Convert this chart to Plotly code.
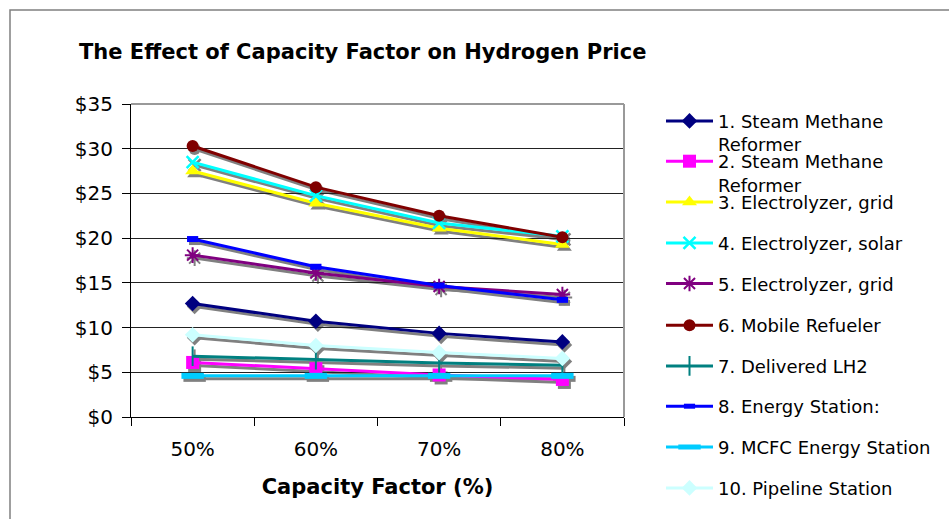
import plotly.graph_objects as go

# Capacity factor categories
capacity = ["50%", "60%", "70%", "80%"]

# Hydrogen price ($/kg) per station type
smr_1 = [12.7, 10.7, 9.35, 8.4]
smr_2 = [6.1, 5.4, 4.7, 4.2]
electrolyzer_grid_3 = [27.5, 23.9, 21.1, 19.3]
electrolyzer_solar_4 = [28.5, 24.75, 21.7, 20.2]
electrolyzer_grid_5 = [18.1, 16.1, 14.6, 13.7]
mobile_refueler_6 = [30.3, 25.7, 22.5, 20.1]
delivered_lh2_7 = [6.8, 6.4, 6.05, 5.8]
energy_station_8 = [19.9, 16.8, 14.7, 13.1]
mcfc_station_9 = [4.6, 4.6, 4.6, 4.6]
pipeline_station_10 = [9.2, 8.0, 7.2, 6.55]

names = [
    "1. Steam Methane<br>Reformer",
    "2. Steam Methane<br>Reformer",
    "3. Electrolyzer, grid",
    "4. Electrolyzer, solar",
    "5. Electrolyzer, grid",
    "6. Mobile Refueler",
    "7. Delivered LH2",
    "8. Energy Station:",
    "9. MCFC Energy Station",
    "10. Pipeline Station",
]
values = [smr_1, smr_2, electrolyzer_grid_3, electrolyzer_solar_4,
          electrolyzer_grid_5, mobile_refueler_6, delivered_lh2_7,
          energy_station_8, mcfc_station_9, pipeline_station_10]

styles = [
    dict(color="#000080", symbol="diamond", size=12, lw=0),
    dict(color="#FF00FF", symbol="square", size=13, lw=0),
    dict(color="#FFFF00", symbol="triangle-up", size=13, lw=0),
    dict(color="#00FFFF", symbol="x-thin-open", size=12, lw=2.5),
    dict(color="#800080", symbol="asterisk-open", size=13, lw=2),
    dict(color="#800000", symbol="circle", size=12, lw=0),
    dict(color="#008080", symbol="line-ns-open", size=14, lw=2),
    dict(color="#0000FF", symbol="line-ew-open", size=8, lw=6),
    dict(color="#00CCFF", symbol="line-ew-open", size=16, lw=6),
    dict(color="#CCFFFF", symbol="diamond", size=12, lw=0),
]

legend_y = [120.7, 161, 201.7, 242.7, 283.3, 325, 365.7, 406, 446.7, 487.7]

W, H = 949, 519
FONT = "DejaVu Sans"

fig = go.Figure()

# drop shadows: same data on a subplot nudged a few pixels right/down
for vals, st in zip(values, styles):
    fig.add_trace(go.Scatter(
        x=capacity, y=vals, mode="lines+markers",
        line=dict(color="#808080", width=3),
        marker=dict(symbol=st["symbol"], size=st["size"], color="#808080",
                    line=dict(color="#808080", width=st["lw"])),
        xaxis="x", yaxis="y", showlegend=False, hoverinfo="skip",
    ))

# series
for i, (name, vals, st) in enumerate(zip(names, values, styles)):
    leg = "legend" if i == 0 else f"legend{i + 1}"
    fig.add_trace(go.Scatter(
        x=capacity, y=vals, mode="lines+markers", name=name,
        line=dict(color=st["color"], width=3),
        marker=dict(symbol=st["symbol"], size=st["size"], color=st["color"],
                    line=dict(color=st["color"], width=st["lw"])),
        xaxis="x2", yaxis="y2", legend=leg,
    ))

legends = {}
for i, yc in enumerate(legend_y):
    key = "legend" if i == 0 else f"legend{i + 1}"
    legends[key] = dict(
        xref="container", yref="container",
        x=661 / W, y=1 - (yc - 18) / H,
        xanchor="left", yanchor="top",
        bgcolor="rgba(0,0,0,0)", borderwidth=0,
        font=dict(family=FONT, size=18, color="#000000"),
        itemwidth=47, valign="top",
    )

ML, MR, MT, MB = 131, 323, 104, 99
PW = W - ML - MR
PH = H - MT - MB
DX, DY = 2, 3

common_x = dict(type="category", range=[-0.5, 3.5], fixedrange=True)
common_y = dict(range=[0, 35], fixedrange=True)

fig.update_layout(
    width=W, height=H,
    margin=dict(l=ML, r=MR, t=MT, b=MB, autoexpand=False),
    paper_bgcolor="white", plot_bgcolor="rgba(0,0,0,0)",
    font=dict(family=FONT, color="#000000"),
    title=dict(
        text="<b>The Effect of Capacity Factor on Hydrogen Price</b>",
        x=79 / W, xanchor="left", xref="container",
        y=1 - 52 / H, yanchor="middle", yref="container",
        font=dict(family=FONT, size=21, color="#000000"),
    ),
    xaxis=dict(common_x, domain=[DX / PW, 1], anchor="y", visible=False),
    yaxis=dict(common_y, domain=[0, 1 - DY / PH], anchor="x", visible=False),
    xaxis2=dict(
        common_x, domain=[0, 1 - DX / PW], anchor="y2",
        showline=True, linecolor="#000000", linewidth=1,
        ticks="outside", ticklen=8, tickcolor="#000000", tickwidth=1,
        tickson="boundaries", showgrid=False, ticklabelstandoff=14,
        tickfont=dict(family=FONT, size=20, color="#000000"),
        title=dict(text="<b>Capacity Factor (%)</b>",
                   font=dict(family=FONT, size=21, color="#000000"),
                   standoff=19),
    ),
    yaxis2=dict(
        common_y, domain=[DY / PH, 1], anchor="x2",
        dtick=5, tick0=0, tickprefix="$",
        showline=True, linecolor="#000000", linewidth=1,
        ticks="outside", ticklen=8, tickcolor="#000000", tickwidth=1,
        showgrid=True, gridcolor="#222222", gridwidth=1,
        zeroline=False, ticklabelstandoff=5,
        tickfont=dict(family=FONT, size=20, color="#000000"),
    ),
    shapes=[
        # plot-area top and right edges
        dict(type="line", xref="x2 domain", yref="y2 domain",
             x0=0, x1=1, y0=1, y1=1, line=dict(color="#999999", width=2)),
        dict(type="line", xref="x2 domain", yref="y2 domain",
             x0=1, x1=1, y0=0, y1=1, line=dict(color="#999999", width=2)),
        # chart frame
        dict(type="rect", xref="paper", yref="paper",
             x0=(10 - ML) / PW, x1=2.0, y0=(H - MB - 10) / PH, y1=-1.0,
             line=dict(color="#808080", width=1.5), fillcolor="rgba(0,0,0,0)",
             layer="below"),
    ],
    **legends,
)

fig.write_html("out.html")
